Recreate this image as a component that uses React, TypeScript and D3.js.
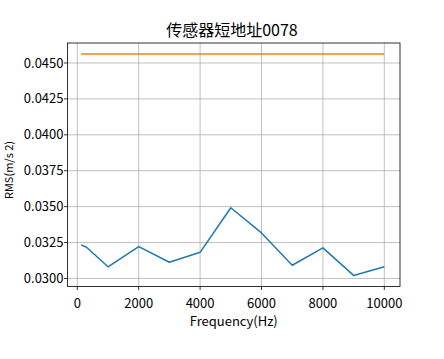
import React from "react";
import * as d3 from "d3";

const frequencies = [125, 300, 1000, 2000, 3000, 4000, 5000, 6000, 7000, 8000, 9000, 10000];
const rmsValues = [0.03234, 0.03217, 0.03081, 0.03222, 0.03113, 0.03182, 0.03492, 0.03317, 0.03092, 0.03213, 0.03021, 0.03081];
const thresholdFreq = [125, 10000];
const thresholdValues = [0.04562, 0.04562];
const xTicks = [0, 2000, 4000, 6000, 8000, 10000];
const yTicks = [0.03, 0.0325, 0.035, 0.0375, 0.04, 0.0425, 0.045];

const W = 444, H = 359;
const L = 67.5, R = 400, T = 43, B = 286.5;
const FONT = "'Noto Sans CJK SC', 'DejaVu Sans', sans-serif";

export default function App() {
  const x = d3.scaleLinear().domain([-319, 10511]).range([L, R]);
  const all = [...rmsValues, ...thresholdValues];
  const mn = d3.min(all)!, mx = d3.max(all)!;
  const pad = (mx - mn) * 0.05;
  const y = d3.scaleLinear().domain([mn - pad, mx + pad]).range([B, T]);

  const line = d3.line<[number, number]>().x(d => x(d[0])).y(d => y(d[1]));
  const blue = line(frequencies.map((f, i) => [f, rmsValues[i]]));
  const orange = line(thresholdFreq.map((f, i) => [f, thresholdValues[i]]));

  return (
    <svg width={W} height={H} style={{ position: "absolute", left: 0, top: 0, background: "#fff" }} fontFamily={FONT}>
      <rect x={0} y={0} width={W} height={H} fill="#fff" />
      {xTicks.map(t => (
        <line key={"gx" + t} x1={x(t)} x2={x(t)} y1={T} y2={B} stroke="#b0b0b0" strokeWidth={0.8} />
      ))}
      {yTicks.map(t => (
        <line key={"gy" + t} x1={L} x2={R} y1={y(t)} y2={y(t)} stroke="#b0b0b0" strokeWidth={0.8} />
      ))}
      <path d={blue!} fill="none" stroke="#1f77b4" strokeWidth={1.5} strokeLinejoin="round" />
      <path d={orange!} fill="none" stroke="#ff7f0e" strokeWidth={1.5} />
      <rect x={L} y={T} width={R - L} height={B - T} fill="none" stroke="#000" strokeWidth={0.8} />
      {xTicks.map(t => (
        <g key={"xt" + t}>
          <line x1={x(t)} x2={x(t)} y1={B} y2={B + 3.5} stroke="#000" strokeWidth={0.8} />
          <text x={x(t)} y={308} textAnchor="middle" fontSize={13} fill="#000">{t}</text>
        </g>
      ))}
      {yTicks.map(t => (
        <g key={"yt" + t}>
          <line x1={L} x2={L - 3.5} y1={y(t)} y2={y(t)} stroke="#000" strokeWidth={0.8} />
          <text x={63.5} y={y(t)} dy="0.35em" textAnchor="end" fontSize={13} fill="#000">{t.toFixed(4)}</text>
        </g>
      ))}
      <text x={(L + R) / 2} y={326} textAnchor="middle" fontSize={13} fill="#000">Frequency(Hz)</text>
      <text transform={`translate(12.5,170) rotate(-90)`} textAnchor="middle" fontSize={11} fill="#000">RMS(m/s 2)</text>
      <text x={232} y={36} textAnchor="middle" fontSize={16} fill="#000">传感器短地址0078</text>
    </svg>
  );
}
